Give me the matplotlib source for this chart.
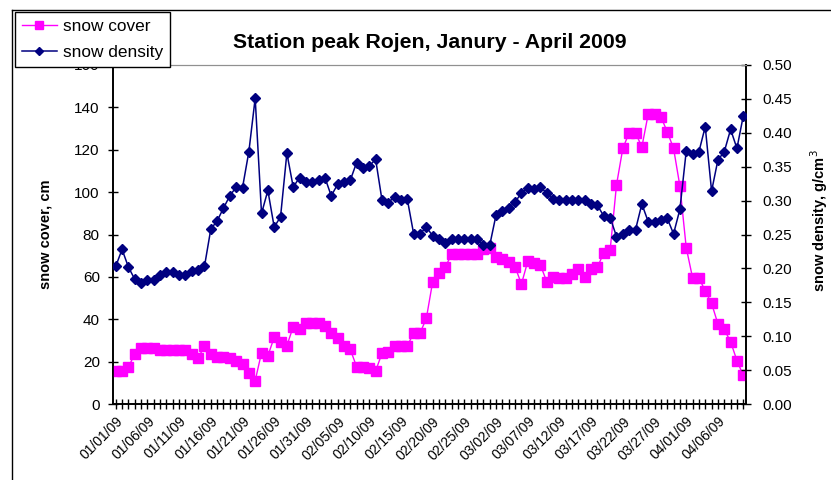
import numpy as np
import pandas as pd
import matplotlib
matplotlib.use("Agg")
import matplotlib.pyplot as plt
from matplotlib.lines import Line2D
from matplotlib.ticker import FormatStrFormatter

plt.rcParams['font.family'] = ['Liberation Sans', 'DejaVu Sans']

# Daily observations, 1 Jan - 10 Apr 2009
start_date = "2009-01-01"
n_days = 100
dates = pd.date_range(start_date, periods=n_days, freq="D")

snow_cover = [
    15.5, 15.5, 17.5, 23.5, 26.5, 26.5, 26.5, 25.5, 25.5, 25.5,
    25.5, 25.5, 23.5, 21.5, 27.5, 23.5, 22.3, 22.3, 21.5, 20.5,
    18.9, 14.8, 11.0, 24.2, 22.7, 31.5, 29.1, 27.5, 36.5, 35.2,
    38.1, 38.1, 38.1, 36.8, 33.4, 31.0, 27.5, 25.8, 17.6, 17.6,
    16.8, 15.6, 23.9, 24.4, 27.5, 27.5, 27.5, 33.4, 33.4, 40.4,
    57.7, 62.0, 64.8, 70.6, 70.6, 70.6, 70.6, 70.6, 73.0, 73.5,
    69.5, 68.5, 67.2, 64.8, 56.6, 67.3, 66.5, 65.6, 57.7, 60.1,
    59.5, 59.5, 61.5, 63.8, 60.1, 63.6, 64.6, 71.4, 72.7, 103.4,
    120.7, 128.0, 128.0, 121.3, 136.8, 136.8, 135.6, 128.5, 120.7, 102.9,
    73.8, 59.6, 59.6, 53.3, 47.5, 37.8, 35.2, 29.4, 20.5, 13.5,
]

snow_density = [
    0.203, 0.228, 0.202, 0.184, 0.178, 0.183, 0.183, 0.190, 0.194, 0.194,
    0.190, 0.190, 0.196, 0.197, 0.203, 0.258, 0.270, 0.289, 0.307, 0.320,
    0.319, 0.372, 0.451, 0.281, 0.315, 0.261, 0.276, 0.370, 0.320, 0.334,
    0.327, 0.327, 0.330, 0.334, 0.307, 0.324, 0.328, 0.330, 0.356, 0.348,
    0.351, 0.361, 0.301, 0.297, 0.306, 0.301, 0.302, 0.251, 0.251, 0.261,
    0.248, 0.243, 0.238, 0.243, 0.243, 0.243, 0.243, 0.243, 0.234, 0.234,
    0.279, 0.285, 0.289, 0.298, 0.311, 0.319, 0.317, 0.320, 0.311, 0.302,
    0.301, 0.301, 0.301, 0.301, 0.301, 0.295, 0.293, 0.277, 0.275, 0.247,
    0.251, 0.257, 0.257, 0.295, 0.269, 0.268, 0.271, 0.274, 0.251, 0.287,
    0.373, 0.369, 0.372, 0.409, 0.314, 0.360, 0.372, 0.405, 0.377, 0.425,
]

title = "Station peak Rojen, Janury - April 2009"
cover_label = "snow cover"
density_label = "snow density"
left_ylabel = "snow cover, cm"
right_ylabel = "snow density, g/cm$^3$"
label_every = 5

W, H = 831, 480
fig = plt.figure(figsize=(W / 100, H / 100), dpi=100)
fig.patch.set_facecolor("white")

x = np.arange(len(dates))
L, R, T, B = 113, 746, 65, 404
ax = fig.add_axes([L / W, 1 - B / H, (R - L) / W, (B - T) / H])
ax2 = ax.twinx()

cover_color = "#FF00FF"
density_color = "#000080"
sq_size = 7.0
dm_size = 5.0

ax.plot(x, snow_cover, color=cover_color, lw=1.0, marker="s", ms=sq_size,
        mec=cover_color, mfc=cover_color, zorder=3)
ax2.plot(x, snow_density, color=density_color, lw=1.1, marker="D", ms=dm_size,
         mec=density_color, mfc=density_color, zorder=3)

ax.set_xlim(-0.43, len(x) - 1 + 0.43)
ax.set_ylim(0, 160)
ax2.set_ylim(0, 0.5)
ax.set_yticks(np.arange(0, 161, 20))
ax2.set_yticks(np.arange(0, 0.501, 0.05))
ax2.yaxis.set_major_formatter(FormatStrFormatter("%.2f"))

ax.set_xticks(x)
ax.set_xticklabels([d.strftime("%m/%d/%y") if i % label_every == 0 else ""
                    for i, d in enumerate(dates)],
                   rotation=45, ha="right", rotation_mode="anchor", fontsize=10)

for a in (ax, ax2):
    a.tick_params(axis="both", direction="inout", length=7, width=1.0,
                  color="black", labelsize=11)
    a.spines["top"].set_color("#909090")
    a.spines["left"].set_linewidth(1.2)
    a.spines["right"].set_linewidth(1.2)
    a.spines["bottom"].set_linewidth(1.2)
ax.tick_params(axis="x", labelsize=10, pad=4)
ax.tick_params(axis="y", pad=6)
ax2.tick_params(axis="y", pad=8)

ax.set_ylabel(left_ylabel, fontsize=10.5, fontweight="bold", labelpad=16)
ax2.set_ylabel(right_ylabel, fontsize=10.5, fontweight="bold", labelpad=12)
ax2.yaxis.label.set_y(0.54)

fig.text((L + R) / 2 / W, 1 - 42 / H, title, ha="center", va="center",
         fontsize=15.3, fontweight="bold")

# outer chart frame (left and top edges)
fig.add_artist(Line2D([12 / W, 12 / W], [0, 1 - 10 / H], color="black", lw=1.0))
fig.add_artist(Line2D([12 / W, 1], [1 - 10 / H, 1 - 10 / H], color="black", lw=1.0))

handles = [
    Line2D([], [], color=cover_color, lw=1.0, marker="s", ms=sq_size - 1.5,
           mec=cover_color, mfc=cover_color),
    Line2D([], [], color=density_color, lw=1.1, marker="D", ms=dm_size - 0.5,
           mec=density_color, mfc=density_color),
]
leg = fig.legend(handles, [cover_label, density_label], loc="upper left",
                 bbox_to_anchor=(15 / W, 1 - 12 / H), borderaxespad=0,
                 fontsize=12.4, frameon=True, fancybox=False, framealpha=1,
                 edgecolor="black", handlelength=2.0, handletextpad=0.35,
                 borderpad=0.42, labelspacing=0.62)
leg.get_frame().set_linewidth(1.0)
leg.set_zorder(10)

fig.savefig("out.png", dpi=100, facecolor="white")
